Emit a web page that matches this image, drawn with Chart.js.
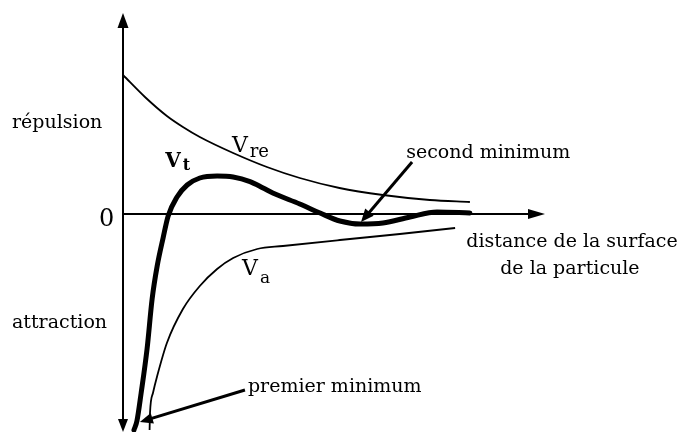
<!DOCTYPE html>
<html><head><meta charset="utf-8">
<script src="https://cdn.jsdelivr.net/npm/chart.js@4/dist/chart.umd.min.js"></script>
<style>html,body{margin:0;padding:0;background:#fff;}#wrap{width:680px;height:432px;}</style>
</head><body><div id="wrap"><canvas id="c" width="680" height="432"></canvas></div>
<script>
// Axis ranges (arbitrary units: distance / potential energy)
const xRange = [0, 100];
const yRange = [-108, 100];

// V_re : repulsive potential (thin)
const vreX = [0, 5.2, 10.4, 14.2, 18.2, 26.1, 34.1, 41.9, 51.3, 61.6, 72.7, 82.2];
const vreY = [69.5, 58.5, 49, 43.5, 38.5, 30.5, 23.5, 18, 13, 9.5, 7, 6];

// V_t : total potential (thick)
const vtX = [2.6, 3.3, 4.3, 5.7, 6.9, 8.1, 9.5, 10.7, 12.8, 15.2, 18.2, 22.3, 26.1, 30.1, 33.2, 35.5, 41.9, 46.7, 51.4, 56.2, 61.6, 68, 74.4, 82.2];
const vtY = [-108, -103.5, -89.5, -67.5, -42.5, -26, -12, -1, 8.5, 14.5, 18, 19, 18.5, 16.2, 13, 10.5, 5, 0.5, -3.5, -5, -4.5, -1.5, 1, 0.5];

// V_a : attractive potential (thin)
const vaX = [6.3, 6.4, 7.1, 8.1, 10.4, 14.2, 18.2, 22.3, 26.1, 31.8, 37.9, 51.4, 65.6, 78.7];
const vaY = [-108, -99.5, -89.5, -81, -64.5, -47.5, -36, -27.5, -22, -17.5, -16, -13, -10, -7];

// Text
const yLabels = ['répulsion', '0', 'attraction'];
const xTitle = ['distance de la surface', 'de la particule'];
const curveNames = [['V', 're'], ['V', 't'], ['V', 'a']];
const notes = ['second minimum', 'premier minimum'];

const pts = (xs, ys) => xs.map((x, i) => ({x, y: ys[i]}));

const FONT = '"DejaVu Serif", serif';

function arrowHead(ctx, fx, fy, tx, ty, len, half) {
  const a = Math.atan2(ty - fy, tx - fx);
  ctx.beginPath();
  ctx.moveTo(tx, ty);
  ctx.lineTo(tx - len * Math.cos(a) + half * Math.sin(a), ty - len * Math.sin(a) - half * Math.cos(a));
  ctx.lineTo(tx - len * Math.cos(a) - half * Math.sin(a), ty - len * Math.sin(a) + half * Math.cos(a));
  ctx.closePath();
  ctx.fill();
}

const deco = {
  id: 'deco',
  beforeDatasetsDraw(chart) {
    const {ctx, chartArea: ca, scales: {x: xs, y: ys}} = chart;
    const x0 = xs.getPixelForValue(0), y0 = ys.getPixelForValue(0);
    ctx.save();
    ctx.strokeStyle = '#000'; ctx.fillStyle = '#000'; ctx.lineWidth = 2;
    ctx.beginPath();
    ctx.moveTo(x0, ca.top + 10); ctx.lineTo(x0, ca.bottom - 8);
    ctx.moveTo(x0, y0); ctx.lineTo(ca.right - 12, y0);
    ctx.stroke();
    arrowHead(ctx, x0, ca.bottom, x0, ca.top - 1, 15, 5.5);
    arrowHead(ctx, x0, ca.top, x0, ca.bottom + 2, 13, 5);
    arrowHead(ctx, x0, y0, ca.right, y0, 17, 5);
    ctx.restore();
  },
  afterDatasetsDraw(chart) {
    const {ctx, scales: {x: xs, y: ys}} = chart;
    const X = v => xs.getPixelForValue(v), Y = v => ys.getPixelForValue(v);
    ctx.save();
    ctx.fillStyle = '#000'; ctx.strokeStyle = '#000';
    ctx.textBaseline = 'alphabetic';
    // y side labels
    ctx.font = '19px ' + FONT; ctx.textAlign = 'left';
    ctx.fillText(yLabels[0], X(-26.3), Y(43));
    ctx.fillText(yLabels[2], X(-26.3), Y(-57));
    ctx.font = '24px ' + FONT; ctx.textAlign = 'center';
    ctx.fillText(yLabels[1], X(-3.9), Y(-6));
    // x title
    ctx.font = '19px ' + FONT; ctx.textAlign = 'center';
    ctx.fillText(xTitle[0], X(106.4), Y(-16.5));
    ctx.fillText(xTitle[1], X(105.9), Y(-30));
    // curve names
    ctx.textAlign = 'left';
    const nm = (n, vx, vy, sy, bold, vsize, ssize) => {
      ctx.font = (bold ? 'bold ' : '') + vsize + 'px ' + FONT;
      ctx.fillText(n[0], X(vx), Y(vy));
      const w = ctx.measureText(n[0]).width;
      ctx.font = (bold ? 'bold ' : '') + ssize + 'px ' + FONT;
      ctx.fillText(n[1], X(vx) + w + 2, Y(sy));
    };
    nm(curveNames[0], 25.8, 31, 28.5, false, 22, 18);
    nm(curveNames[1], 10.0, 23.5, 22, true, 20, 16);
    nm(curveNames[2], 28.2, -30.5, -34.5, false, 22, 17);
    // notes with arrows
    ctx.font = '19px ' + FONT; ctx.textAlign = 'left';
    ctx.fillText(notes[0], X(67.1), Y(28));
    ctx.fillText(notes[1], X(29.6), Y(-89));
    ctx.lineWidth = 3;
    const arr = (fx, fy, tx, ty) => {
      const a = Math.atan2(Y(ty) - Y(fy), X(tx) - X(fx));
      ctx.beginPath();
      ctx.moveTo(X(fx), Y(fy));
      ctx.lineTo(X(tx) - 8 * Math.cos(a), Y(ty) - 8 * Math.sin(a));
      ctx.stroke();
      arrowHead(ctx, X(fx), Y(fy), X(tx), Y(ty), 13, 5.5);
    };
    arr(68.5, 26, 56.4, -4);
    arr(28.9, -88, 4.0, -104);
    ctx.restore();
  }
};

new Chart(document.getElementById('c'), {
  type: 'line',
  data: {
    datasets: [
      {label: 'V_re', data: pts(vreX, vreY), borderColor: '#000', borderWidth: 1.8, cubicInterpolationMode: 'monotone', pointRadius: 0, fill: false, clip: false},
      {label: 'V_t', data: pts(vtX, vtY), borderColor: '#000', borderWidth: 5, cubicInterpolationMode: 'monotone', pointRadius: 0, fill: false, clip: false, borderCapStyle: 'round', borderJoinStyle: 'round'},
      {label: 'V_a', data: pts(vaX, vaY), borderColor: '#000', borderWidth: 1.8, cubicInterpolationMode: 'monotone', pointRadius: 0, fill: false, clip: false}
    ]
  },
  options: {
    responsive: false, animation: false, devicePixelRatio: 1,
    layout: {padding: {left: 123, right: 135, top: 14, bottom: 2}},
    plugins: {legend: {display: false}, tooltip: {enabled: false}},
    scales: {
      x: {type: 'linear', min: xRange[0], max: xRange[1], display: false},
      y: {type: 'linear', min: yRange[0], max: yRange[1], display: false}
    }
  },
  plugins: [deco]
});
</script></body></html>
